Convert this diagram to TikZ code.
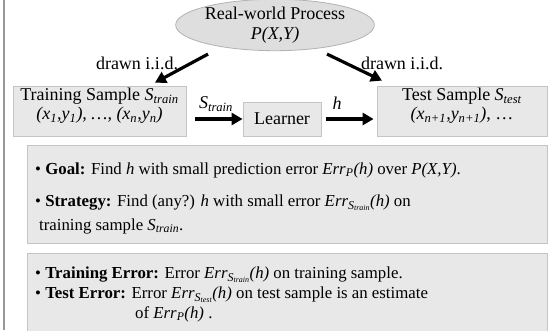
\documentclass[tikz,border=0pt]{standalone}
\usepackage{fontspec}
\setmainfont{Liberation Serif}
\usetikzlibrary{calc,shapes.geometric,arrows.meta}
\newcommand{\isub}[2]{\textit{#1}\textsubscript{\textit{#2}}}
\newcommand{\errsub}[1]{\textit{Err}\raisebox{-3pt}{\fontsize{12}{12}\selectfont\isub{S}{#1}}}
\definecolor{boxfill}{HTML}{E8E8E8}
\definecolor{boxline}{HTML}{C4C4C4}

\begin{document}
\begin{tikzpicture}[x=1pt,y=-1pt,font=\fontsize{18}{19}\selectfont,
  box/.style={draw=boxline,fill=boxfill,line width=0.8pt,inner sep=0pt},
  fat/.style={line width=3.2pt,-{Triangle[length=11pt,width=12pt]}},
  txt/.style={anchor=base west,align=left,inner sep=0pt,font=\fontsize{16.8}{24}\selectfont}]
			%%%%% START %%%%%
			\useasboundingbox (0,0) rectangle (553,330);
			\draw[line width=2pt, color=black!40] (4,0) -- (4,330);
			
			\node[ellipse, draw=black!30, fill=black!13, line width=0.8pt, minimum width=194pt, minimum height=48pt, align=center, inner sep=0pt] (proc) at (275,25) {Real-world Process\\[1pt]\textit{P(X,Y)}};
			
			\node[box, minimum width=173pt, minimum height=50pt] (train) at (99.5,111) {};
			\node[align=center, inner sep=0pt] (traintxt) at ($(train.center)+(0,-5)$) {Training Sample \isub{S}{train}\\\textit{(x\textsubscript{1},y\textsubscript{1}), \dots, (x\textsubscript{n},y\textsubscript{n})}};
			\node[box, minimum width=78pt, minimum height=34pt] (learner) at (282,119) {Learner};
			\node[box, minimum width=170pt, minimum height=50pt] (test) at (462,111) {};
			\node[align=center, inner sep=0pt] (testtxt) at ($(test.center)+(0,-5)$) {Test Sample \isub{S}{test}\\\textit{(x\textsubscript{n+1},y\textsubscript{n+1})}, \dots};
			
			\draw[fat] ($(proc.south)+(-67,3)$) -- ($(train.north)+(55.5,-3)$);
			\draw[fat] ($(proc.south)+(52,3)$) -- ($(test.north)+(-80,-5)$);
			\node (drawl) at (137,63) {drawn i.i.d.};
			\node (drawr) at (402,63) {drawn i.i.d.};
			
			\draw[fat] ($(train.east |- learner.west)+(9,0)$) -- (learner.west);
			\node (strain) at (216,104) {\isub{S}{train}};
			\draw[fat] ($(learner.east)+(5,0)$) -- ($(test.west |- learner.east)+(-3,0)$);
			\node (hlab) at (337,103) {\textit{h}};
			
			% goal and strategy (base anchor sits on the last line)
			\draw[box] (27,145) rectangle (547,243);
			\node[txt] (goal) at (35,174) {• \textbf{Goal:} Find \textit{h} with small prediction error \isub{Err}{P}\textit{(h)} over \textit{P(X,Y)}.};
			\node[txt] (strat) at (35,230) {• \textbf{Strategy:} Find (any?) \textit{h} with small error \errsub{train}\textit{(h)} on\\ \hspace*{4pt}training sample \isub{S}{train}.};
			
			\draw[box] (27,253) rectangle (547,340);
			\node[txt] (trerr) at (35,278) {• \textbf{Training Error:} Error \errsub{train}\textit{(h)} on training sample.};
			\node[txt, font=\fontsize{16.8}{20}\selectfont] (teerr) at (35,318) {• \textbf{Test Error:} Error \errsub{test}\textit{(h)} on test sample is an estimate\\ \hspace*{100pt}of \isub{Err}{P}\textit{(h)} .};
			%%%%% END %%%%%
\end{tikzpicture}
\end{document}
